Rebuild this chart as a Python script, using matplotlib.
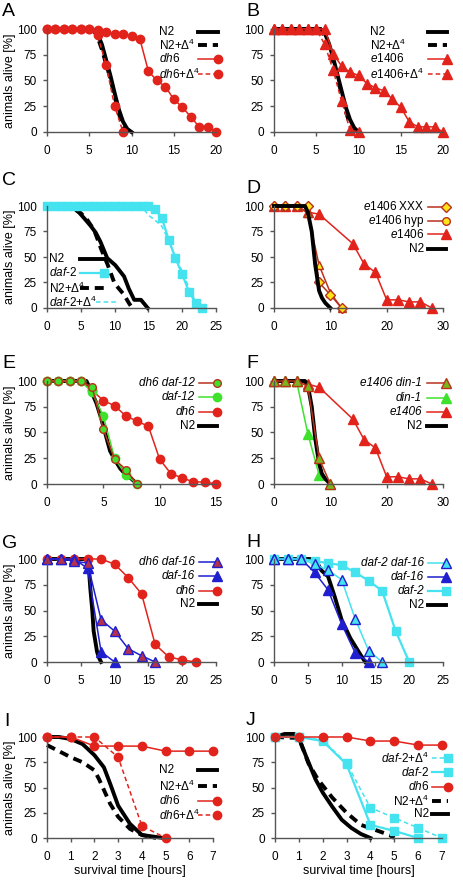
import matplotlib
matplotlib.use("Agg")
import matplotlib.pyplot as plt
import matplotlib.transforms as mtransforms
from matplotlib.lines import Line2D

plt.rcParams['font.family'] = ['Liberation Sans', 'DejaVu Sans']
plt.rcParams['mathtext.fontset'] = 'custom'
plt.rcParams['mathtext.rm'] = 'Liberation Sans'
plt.rcParams['mathtext.it'] = 'Liberation Sans:italic'
plt.rcParams['mathtext.bf'] = 'Liberation Sans:bold'

# ---------------- data (days / hours, % alive) ----------------
# A
a_n2_x = [0, 5, 5.5, 6, 6.5, 7, 7.5, 8, 8.5, 9, 9.5, 10]
a_n2_y = [100, 100, 99, 95, 85, 70, 55, 38, 22, 10, 3, 0]
a_n2d_x = [0, 5, 5.5, 6, 6.5, 7, 7.5, 8, 8.5, 9, 9.5]
a_n2d_y = [100, 100, 99, 92, 80, 66, 52, 35, 18, 6, 0]
a_dh6_x = list(range(21))
a_dh6_y = [100, 100, 100, 100, 100, 100, 99, 97, 95, 95, 93, 90, 59, 50, 44, 32, 24, 15, 5, 5, 0]
a_dh6d_x = [0, 1, 2, 3, 4, 5, 6, 7, 8, 9]
a_dh6d_y = [100, 100, 100, 100, 100, 100, 94, 65, 25, 0]

# B
b_n2_x = [0, 5.5, 6, 6.5, 7, 7.5, 8, 8.5, 9, 9.5, 10]
b_n2_y = [100, 100, 96, 86, 72, 56, 40, 24, 12, 4, 0]
b_n2d_x = [0, 5.5, 6, 6.5, 7, 7.5, 8, 8.5, 9, 9.5]
b_n2d_y = [100, 100, 93, 82, 68, 53, 37, 20, 7, 0]
b_e1406_x = list(range(21))
b_e1406_y = [100, 100, 100, 100, 100, 100, 100, 76, 64, 58, 55, 47, 43, 40, 32, 24, 10, 5, 5, 5, 0]
b_e1406d_x = [0, 1, 2, 3, 4, 5, 6, 7, 8, 9, 10]
b_e1406d_y = [100, 100, 100, 100, 100, 100, 85, 60, 30, 2, 0]

# C
c_n2_x = [0, 3, 4, 4.7, 5.5, 6.4, 7.2, 7.9, 8.9, 10.1, 11.4, 12.1, 12.9, 13.9, 14.9]
c_n2_y = [100, 100, 98, 94, 88, 81, 74, 65, 49, 42, 31, 19, 8, 8, 0]
c_n2d_x = [0, 3, 4, 5, 6, 7, 8, 9, 10, 11.4, 12.1, 12.6]
c_n2d_y = [100, 100, 97, 93, 86, 76, 58, 42, 24, 13, 5, 0]
c_daf2_x = list(range(24))
c_daf2_y = [100] * 16 + [97, 88, 67, 49, 33, 16, 5, 0]
c_daf2d_x = [0, 14, 15, 16, 17, 18, 19, 20, 21, 22, 22.5]
c_daf2d_y = [100, 100, 91, 86, 80, 66, 50, 36, 20, 6, 0]

# D
d_n2_x = [0, 5.5, 6, 6.7, 7.3, 8, 8.5, 9.1, 10]
d_n2_y = [100, 100, 94, 75, 43, 17, 10, 5, 0]
d_e1406_x = [0, 2, 4, 6, 8, 14, 16, 18, 20, 22, 24, 26, 28]
d_e1406_y = [100, 100, 100, 94, 92, 63, 43, 35, 8, 8, 6, 6, 0]
d_hyp_x = [0, 2, 4, 6, 8, 10, 12]
d_hyp_y = [100, 100, 100, 93, 42, 15, 0]
d_xxx_x = [0, 2, 4, 6, 8, 10, 12]
d_xxx_y = [100, 100, 100, 100, 25, 13, 0]

# E
e_n2_x = [0, 3.5, 3.9, 4.4, 4.8, 5.2, 5.6, 6.0, 6.5, 7, 7.4, 8]
e_n2_y = [100, 100, 91, 78, 64, 48, 32, 24, 15, 9, 6, 0]
e_dh6_x = list(range(16))
e_dh6_y = [100, 100, 100, 100, 91, 81, 76, 66, 61, 56, 24, 10, 6, 2, 2, 0]
e_daf12_x = [0, 1, 2, 3, 4, 5, 6, 7, 8]
e_daf12_y = [100, 100, 100, 100, 89, 66, 25, 9, 0]
e_dd_x = [0, 1, 2, 3, 4, 5, 6, 7, 8]
e_dd_y = [100, 100, 100, 100, 94, 53, 24, 14, 0]

# F
f_n2_x = [0, 5.5, 6, 6.7, 7.3, 8, 8.5, 9.1, 10]
f_n2_y = [100, 100, 96, 75, 45, 20, 10, 5, 0]
f_e1406_x = [0, 2, 4, 6, 8, 14, 16, 18, 20, 22, 24, 26, 28]
f_e1406_y = [100, 100, 100, 97, 94, 63, 43, 35, 7, 7, 5, 5, 0]
f_din1_x = [0, 2, 4, 6, 8, 10]
f_din1_y = [100, 100, 100, 49, 9, 0]
f_dd_x = [0, 2, 4, 6, 8, 10]
f_dd_y = [100, 100, 100, 95, 25, 0]

# G
g_n2_x = [0, 6, 6.2, 6.4, 6.7, 6.9, 7.2, 7.4, 7.7, 8]
g_n2_y = [100, 100, 90, 72, 50, 30, 18, 10, 4, 0]
g_dh6_x = [0, 2, 4, 6, 8, 10, 12, 14, 16, 18, 20, 22]
g_dh6_y = [100, 100, 100, 100, 100, 95, 82, 66, 17, 5, 2, 0]
g_daf16_x = [0, 2, 4, 6, 8, 10]
g_daf16_y = [100, 100, 100, 91, 10, 0]
g_dd_x = [0, 2, 4, 6, 8, 10, 12, 14, 16]
g_dd_y = [100, 100, 98, 96, 41, 30, 13, 6, 0]

# H
h_n2_x = [0, 5.5, 6.5, 7, 8, 9, 10, 11.3, 12.8, 13.5]
h_n2_y = [100, 100, 95, 89, 83, 63, 41, 23, 7, 0]
h_daf2_x = [0, 2, 4, 6, 8, 10, 12, 14, 16, 18, 20]
h_daf2_y = [100, 100, 100, 98, 96, 94, 87, 79, 69, 30, 0]
h_daf16_x = [0, 2, 4, 6, 8, 10, 12, 14]
h_daf16_y = [100, 100, 100, 87, 70, 37, 9, 0]
h_dd_x = [0, 2, 4, 6, 8, 10, 12, 14, 16]
h_dd_y = [100, 100, 100, 95, 89, 80, 42, 11, 0]

# I (hours)
i_n2_x = [0, 0.5, 1, 1.5, 2, 2.4, 2.66, 3, 3.5, 4, 4.6, 4.9]
i_n2_y = [100, 100, 98, 93, 82, 70, 54, 32, 14, 3, 1, 0]
i_n2d_x = [0, 1, 1.5, 2, 2.2, 2.66, 3, 3.5, 4, 4.6]
i_n2d_y = [92, 80, 75, 67, 58, 34, 21, 9, 3, 0]
i_dh6_x = [0, 1, 2, 3, 4, 5, 6, 7]
i_dh6_y = [100, 100, 91, 91, 91, 86, 86, 86]
i_dh6d_x = [0, 1, 2, 3, 4, 5]
i_dh6d_y = [100, 100, 100, 80, 12, 0]

# J (hours)
j_n2_x = [0, 0.4, 0.8, 1, 1.3, 1.7, 2, 2.4, 2.8, 3.2, 3.6, 4]
j_n2_y = [100, 103, 103, 99, 81, 58, 45, 31, 18, 10, 4, 0]
j_n2d_x = [0, 1, 1.4, 1.8, 2.4, 3, 3.6, 4.2, 4.8, 5]
j_n2d_y = [100, 99, 74, 58, 40, 25, 13, 8, 3, 0]
j_dh6_x = [0, 1, 2, 3, 4, 5, 6, 7]
j_dh6_y = [100, 100, 100, 100, 96, 96, 92, 92]
j_daf2_x = [0, 1, 2, 3, 4, 5, 6]
j_daf2_y = [100, 100, 96, 73, 13, 7, 0]
j_daf2d_x = [0, 1, 2, 3, 4, 5, 6, 7]
j_daf2d_y = [100, 100, 97, 74, 30, 20, 10, 0]

# ---------------- styles ----------------
RED = '#e2231c'
DRED = '#b8321c'
CYAN = '#45e2ef'
GREEN = '#3ee22c'
BLUE = '#1f1fd0'
YEL = '#ffe31a'
PURP = '#b5304a'

N2 = dict(color='black', lw=2.8)
N2D = dict(color='black', lw=2.8, ls=(0, (2.3, 1.5)))
DH6 = dict(color=RED, lw=1.1, marker='o', ms=6, mfc=RED, mec=RED)
DH6D = dict(DH6, ls=(0, (3, 2)))
TRI = dict(color=RED, lw=1.1, marker='^', ms=7, mfc=RED, mec=RED)
TRID = dict(TRI, ls=(0, (3, 2)))
SQ = dict(color=CYAN, lw=1.6, marker='s', ms=6, mfc=CYAN, mec=CYAN)
SQD = dict(SQ, ls=(0, (3, 2)), lw=1.1)
CYD = dict(color=CYAN, lw=1.1, ls=(0, (3, 2)))
XXX = dict(color=DRED, lw=1.1, marker='D', ms=5, mfc=YEL, mec=DRED)
HYP = dict(color=DRED, lw=1.1, marker='^', ms=6, mfc=YEL, mec=DRED)
HYP_LEG = dict(HYP, marker='o', ms=5.5)
DAF12 = dict(color=GREEN, lw=1.1, marker='o', ms=6, mfc=GREEN, mec=GREEN)
DHDAF12 = dict(color=DRED, lw=1.1, marker='o', ms=5.5, mfc=GREEN, mec=DRED)
DIN1 = dict(color=GREEN, lw=1.1, marker='^', ms=7, mfc=GREEN, mec=GREEN)
EDIN1 = dict(color=DRED, lw=1.1, marker='^', ms=7, mfc='#7ab51e', mec=DRED)
DAF16 = dict(color=BLUE, lw=1.1, marker='^', ms=7, mfc=BLUE, mec=BLUE)
DHDAF16 = dict(color=BLUE, lw=1.1, marker='^', ms=7, mfc=PURP, mec=BLUE)
D2D16 = dict(color=CYAN, lw=1.1, marker='^', ms=7, mfc=CYAN, mec=BLUE)

L_N2 = 'N2'
L_N2D = r'N2+$\Delta^{4}$'
L_DH6 = r'$\mathit{dh6}$'
L_DH6D = r'$\mathit{dh6}$+$\Delta^{4}$'
L_E = r'$\mathit{e1406}$'
L_ED = r'$\mathit{e1406}$+$\Delta^{4}$'
L_D2 = r'$\mathit{daf}$-$\mathit{2}$'
L_D2D = r'$\mathit{daf}$-$\mathit{2}$+$\Delta^{4}$'

W, H = 464, 880
fig = plt.figure(figsize=(W / 100, H / 100), dpi=100)
px = mtransforms.Affine2D().scale(1 / W, -1 / H).translate(0, 1) + fig.transFigure


def make_ax(x0, top, bottom, xmax, xstep, width=169):
    ax = fig.add_axes([x0 / W, 1 - bottom / H, width / W, (bottom - top) / H])
    ax.set_xlim(0, xmax)
    ax.set_ylim(0, 100)
    ax.set_xticks(range(0, xmax + 1, xstep))
    ax.set_yticks([0, 25, 50, 75, 100])
    for s in ['top', 'right']:
        ax.spines[s].set_visible(False)
    for s in ['left', 'bottom']:
        ax.spines[s].set_color('#555555')
        ax.spines[s].set_linewidth(1)
    ax.tick_params(direction='out', length=3, width=1, color='#555555', labelsize=8.5)
    ax.tick_params(axis='x', pad=6.5)
    ax.tick_params(axis='y', pad=4.3)
    return ax


def curve(ax, x, y, st):
    ax.plot(x, y, clip_on=False, **st)


def legend(entries, tx, ha, hx0, hx1, ys):
    for (label, st, it), y in zip(entries, ys):
        fig.text(tx, y, label, transform=px, ha=ha, va='center', fontsize=8.5,
                 style='italic' if it else 'normal')
        fig.add_artist(Line2D([hx0, hx1], [y, y], transform=px, markevery=[1], **st))


def ylab(ax):
    ax.set_ylabel('animals alive [%]', fontsize=9)
    ax.yaxis.set_label_coords(-0.185, 0.5)


LX, RX = 47, 274

# A
ax = make_ax(LX, 29, 132, 20, 5)
curve(ax, a_n2_x, a_n2_y, N2)
curve(ax, a_n2d_x, a_n2d_y, N2D)
curve(ax, a_dh6_x, a_dh6_y, DH6)
curve(ax, a_dh6d_x, a_dh6d_y, DH6D)
ylab(ax)
legend([(L_N2, N2, False), (L_N2D, N2D, False), (L_DH6, DH6, False), (L_DH6D, DH6D, False)],
       159, 'left', 198, 218, [32, 45, 59, 74])

# B
ax = make_ax(RX, 29, 132, 20, 5)
curve(ax, b_n2_x, b_n2_y, N2)
curve(ax, b_n2d_x, b_n2d_y, N2D)
curve(ax, b_e1406_x, b_e1406_y, TRI)
curve(ax, b_e1406d_x, b_e1406d_y, TRID)
legend([(L_N2, N2, False), (L_N2D, N2D, False), (L_E, TRI, False), (L_ED, TRID, False)],
       370, 'left', 428, 447, [32, 45, 59, 74])

# C
ax = make_ax(LX, 206, 308, 25, 5)
curve(ax, c_n2_x, c_n2_y, N2)
curve(ax, c_n2d_x, c_n2d_y, N2D)
curve(ax, c_daf2d_x, c_daf2d_y, CYD)
curve(ax, c_daf2_x, c_daf2_y, SQ)
ylab(ax)
legend([(L_N2, N2, False), (L_D2, SQ, False), (L_N2D, N2D, False)],
       49, 'left', 80, 104, [259, 273, 288])
legend([(L_D2D, CYD, False)], 49, 'left', 96, 118, [302])

# D
ax = make_ax(RX, 206, 308, 30, 10)
curve(ax, d_e1406_x, d_e1406_y, TRI)
curve(ax, d_hyp_x, d_hyp_y, HYP)
curve(ax, d_xxx_x, d_xxx_y, XXX)
curve(ax, d_n2_x, d_n2_y, N2)
legend([(r'$\mathit{e1406}$ XXX', XXX, False), (r'$\mathit{e1406}$ hyp', HYP_LEG, False),
        (L_E, TRI, False), (L_N2, N2, False)],
       424, 'right', 428, 446, [207, 221, 234, 249])

# E
ax = make_ax(LX, 381, 484, 15, 5)
curve(ax, e_n2_x, e_n2_y, N2)
curve(ax, e_dh6_x, e_dh6_y, DH6)
curve(ax, e_daf12_x, e_daf12_y, DAF12)
curve(ax, e_dd_x, e_dd_y, DHDAF12)
ylab(ax)
legend([('dh6 daf-12', DHDAF12, True), ('daf-12', DAF12, True), ('dh6', DH6, True), (L_N2, N2, False)],
       195, 'right', 199, 217, [383, 397, 412, 426])

# F
ax = make_ax(RX, 381, 484, 30, 10)
curve(ax, f_e1406_x, f_e1406_y, TRI)
curve(ax, f_din1_x, f_din1_y, DIN1)
curve(ax, f_n2_x, f_n2_y, N2)
curve(ax, f_dd_x, f_dd_y, EDIN1)
legend([('e1406 din-1', EDIN1, True), ('din-1', DIN1, True), ('e1406', TRI, True), (L_N2, N2, False)],
       422, 'right', 427, 446, [383, 398, 412, 426])

# G
ax = make_ax(LX, 559, 662, 25, 5)
curve(ax, g_n2_x, g_n2_y, N2)
curve(ax, g_dh6_x, g_dh6_y, DH6)
curve(ax, g_daf16_x, g_daf16_y, DAF16)
curve(ax, g_dd_x, g_dd_y, DHDAF16)
ylab(ax)
legend([('dh6 daf-16', DHDAF16, True), ('daf-16', DAF16, True), ('dh6', DH6, True), (L_N2, N2, False)],
       195, 'right', 199, 217, [562, 576, 591, 604])

# H
ax = make_ax(RX, 559, 662, 25, 5)
curve(ax, h_n2_x, h_n2_y, N2)
curve(ax, h_daf2_x, h_daf2_y, SQ)
curve(ax, h_daf16_x, h_daf16_y, DAF16)
curve(ax, h_dd_x, h_dd_y, D2D16)
legend([('daf-2 daf-16', D2D16, True), ('daf-16', DAF16, True), ('daf-2', SQ, True), (L_N2, N2, False)],
       424, 'right', 428, 446, [563, 577, 591, 605])

# I
ax = make_ax(LX, 737, 838, 7, 1, width=166)
curve(ax, i_n2_x, i_n2_y, N2)
curve(ax, i_n2d_x, i_n2d_y, N2D)
curve(ax, i_dh6_x, i_dh6_y, DH6)
curve(ax, i_dh6d_x, i_dh6d_y, DH6D)
ylab(ax)
ax.set_xlabel('survival time [hours]', fontsize=9, labelpad=1)
legend([(L_N2, N2, False), (L_N2D, N2D, False), (L_DH6, DH6, False), (L_DH6D, DH6D, False)],
       159, 'left', 198, 217, [770, 786, 801, 815])

# J
ax = make_ax(275, 737, 838, 7, 1, width=167)
curve(ax, j_n2_x, j_n2_y, N2)
curve(ax, j_n2d_x, j_n2d_y, N2D)
curve(ax, j_daf2d_x, j_daf2d_y, SQD)
curve(ax, j_daf2_x, j_daf2_y, SQ)
curve(ax, j_dh6_x, j_dh6_y, DH6)
ax.set_xlabel('survival time [hours]', fontsize=9, labelpad=1)
legend([(L_D2D, SQD, False), (L_D2, SQ, False), (L_DH6, DH6, False), (L_N2D, N2D, False), (L_N2, N2, False)],
       429, 'right', 432, 448, [758, 772, 787, 801, 814])

# panel letters
for letter, x, y in [('A', 2, 3), ('B', 246, 3), ('C', 2, 172), ('D', 246, 180),
                     ('E', 2, 355), ('F', 246, 355), ('G', 2, 535), ('H', 246, 534),
                     ('I', 4, 713), ('J', 246, 712)]:
    fig.text(x, y, letter, transform=px, fontsize=14, va='top', ha='left')

fig.savefig('out.png', dpi=100)
